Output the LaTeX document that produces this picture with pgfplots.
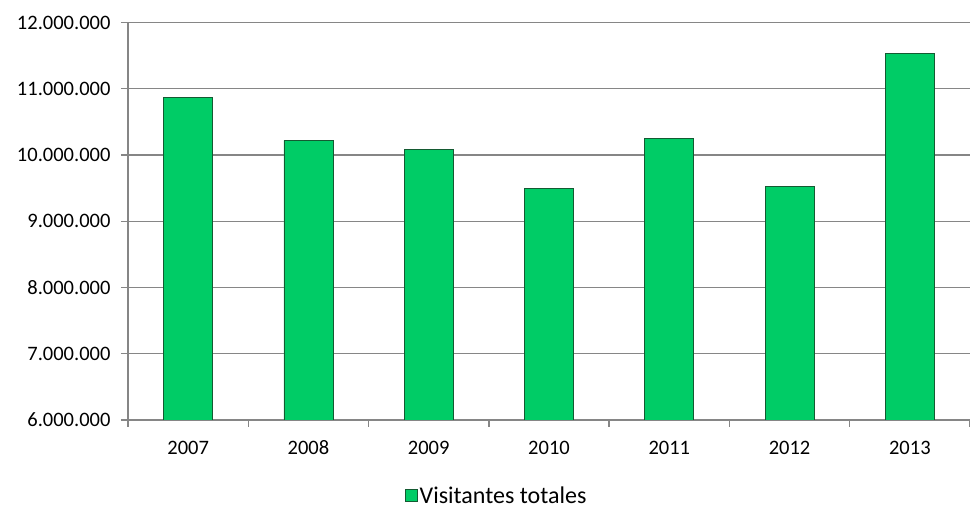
\documentclass[border=0pt]{standalone}
\usepackage{pgfplots}
\pgfplotsset{compat=1.18}
\usepackage{fontspec}
\setmainfont{Carlito}
\definecolor{barg}{RGB}{0,204,102}
\definecolor{bard}{RGB}{20,90,50}
\definecolor{gridg}{RGB}{134,134,134}
\begin{document}
\begin{tikzpicture}[x=1pt,y=1pt]
\useasboundingbox (0,0) rectangle (970,508);
\begin{axis}[
  at={(128pt,88pt)}, anchor=south west,
  scale only axis,
  width=842pt, height=397.5pt,
  xmin=-0.5, xmax=6.5,
  ymin=6000000, ymax=12000000,
  ytick={6000000,7000000,8000000,9000000,10000000,11000000,12000000},
  xtick={0,1,2,3,4,5,6},
  xticklabels={2007,2008,2009,2010,2011,2012,2013},
  minor xtick={-0.5,0.5,1.5,2.5,3.5,4.5,5.5,6.5},
  axis lines*=left,
  axis line style={draw=gridg, line width=1.4pt, -},
  tick align=outside,
  major tick length=7pt,
  minor tick length=7pt,
  major x tick style={draw=none},
  minor x tick style={draw=gridg, line width=1.4pt},
  y tick style={draw=gridg, line width=1.4pt},
  ymajorgrids,
  major grid style={draw=gridg, line width=1.4pt},
  scaled y ticks=false,
  /pgf/number format/fixed,
  /pgf/number format/1000 sep={.},
  /pgf/number format/assume math mode=true,
  ticklabel style={font=\fontsize{20.5}{22}\selectfont, text=black},
  yticklabel style={xshift=-7pt},
  xticklabel style={anchor=base, yshift=-28pt},
  legend style={at={(0.438,-0.19)}, anchor=center, draw=none, fill=none,
    font=\fontsize{24}{26}\selectfont, legend cell align=left,
    inner sep=1pt},
  legend image code/.code={\draw[fill=barg, draw=bard, line width=0.6pt] (0pt,-6pt) rectangle (12pt,6pt);},
]
\addplot[ybar, bar width=49pt, fill=barg, draw=bard, line width=0.8pt] coordinates {
  (0,10866000) (1,10222000) (2,10080000) (3,9493000) (4,10256000) (5,9523000) (6,11535000)
};
\addlegendentry{Visitantes totales}
\end{axis}
\end{tikzpicture}
\end{document}
